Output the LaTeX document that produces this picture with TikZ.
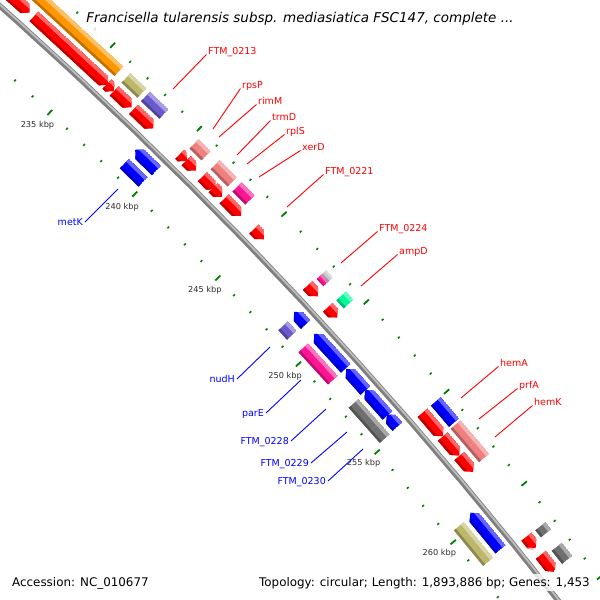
\documentclass[tikz,border=0pt]{standalone}
\usepackage{fontspec}
\setmainfont{DejaVu Sans}
\usetikzlibrary{calc}
\definecolor{cRed}{RGB}{255,0,0}
\definecolor{cBlue}{RGB}{0,0,255}
\definecolor{cOrange}{RGB}{255,150,0}
\definecolor{cOlive}{RGB}{189,183,107}
\definecolor{cPurple}{RGB}{106,90,205}
\definecolor{cCoral}{RGB}{240,128,128}
\definecolor{cMagenta}{RGB}{255,20,147}
\definecolor{cMint}{RGB}{0,250,154}
\definecolor{cGray}{RGB}{112,112,112}
\definecolor{cLGray}{RGB}{200,200,200}
\definecolor{cPink}{RGB}{255,182,193}
\definecolor{cTick}{RGB}{0,128,0}
\definecolor{cBack}{RGB}{128,128,128}
\definecolor{cBackL}{RGB}{190,190,190}
\definecolor{cTxt}{RGB}{45,45,45}

\newcommand\RO{4614}
% #1 x1, #2 y1, #3 x2, #4 y2 (screen points at the two ends), #5 radial offset, #6 half width, #7 type (0 box,1 fwd,2 rev), #8 colour
\newcommand\feat[8]{%
  \pgfmathsetmacro\tA{atan2((#2)-3448,(#1)+3071)}%
  \pgfmathsetmacro\tB{atan2((#4)-3448,(#3)+3071)}%
  \pgfmathsetmacro\rc{\RO+(#5)}%
  \pgfmathsetmacro\ri{\rc-(#6)}%
  \pgfmathsetmacro\ro{\rc+(#6)}%
  \pgfmathsetmacro\hd{min(6.5*57.29578/\rc,\tB-\tA)}%
  \pgfmathsetmacro\tAh{\tA+\hd}%
  \pgfmathsetmacro\tBh{\tB-\hd}%
  \pgfmathsetmacro\tAx{\tA-0.1}%
  \pgfmathsetmacro\tBx{\tB+0.1}%
  \pgfmathsetmacro\rhl{\ro-0.6*(#6)}%
  \pgfmathsetmacro\rsh{\ri+0.4*(#6)}%
  \ifcase#7\relax
    \def\fpath{(\tA:\ri) -- (\tB:\ri) -- (\tB:\ro) -- (\tA:\ro) -- cycle}%
  \or
    \def\fpath{(\tA:\ri) -- (\tBh:\ri) -- (\tB:\rc) -- (\tBh:\ro) -- (\tA:\ro) -- cycle}%
  \or
    \def\fpath{(\tB:\ri) -- (\tAh:\ri) -- (\tA:\rc) -- (\tAh:\ro) -- (\tB:\ro) -- cycle}%
  \fi
  \begin{scope}
    \clip \fpath;
    \fill[#8] \fpath;
    \fill[#8!60!white] (\tAx:\rhl) -- (\tBx:\rhl) -- (\tBx:\ro) -- (\tAx:\ro) -- cycle;
    \fill[#8!75!black] (\tAx:\ri) -- (\tBx:\ri) -- (\tBx:\rsh) -- (\tAx:\rsh) -- cycle;
  \end{scope}
}

\begin{document}
\begin{tikzpicture}[x=1pt,y=-1pt,
  lblR/.style={text=cRed, font=\fontsize{9.5}{11}\selectfont, inner sep=0pt, anchor=base west},
  lblB/.style={text=cBlue, font=\fontsize{9.5}{11}\selectfont, inner sep=0pt, anchor=base east},
  lineR/.style={draw=cRed, line width=0.9pt},
  lineB/.style={draw=cBlue, line width=0.9pt},
  tickL/.style={draw=cTick, line width=1.8pt},
  tickS/.style={draw=cTick, line width=1.6pt},
  kbp/.style={text=cTxt, font=\fontsize{8.2}{9}\selectfont, inner sep=0pt},
  legend/.style={font=\fontsize{11.9}{13}\selectfont, fill=white, fill opacity=0.8, text opacity=1, inner sep=3pt}]
\useasboundingbox (0,0) rectangle (600,600);
\fill[white] (0,0) rectangle (600,600);
\begin{scope}
\clip (0,0) rectangle (600,600);
\begin{scope}[shift={(-3071,3448)}]
  % tick rings
  \foreach \k in {229,...,267}{
    \pgfmathsetmacro\th{-46.905+0.29592*(\k-235)}
    \pgfmathtruncatemacro\m{mod(\k,5)}
    \ifnum\m=0
      \draw[tickL] (\th:4656.5) -- (\th:4663.5);
      \draw[tickL] (\th:4564.5) -- (\th:4571.5);
    \else
      \draw[tickS] (\th:4658.8) -- (\th:4661.2);
      \draw[tickS] (\th:4566.8) -- (\th:4569.2);
    \fi
  }
  \foreach \k in {235,240,...,260}{
    \pgfmathsetmacro\th{-46.905+0.29592*(\k-235)}
    \node[kbp] (tk\k) at (\th:4550) {\k\ kbp};
  }
  % backbone
  \draw[line width=5.5pt, cBack] plot[domain=-49.5:-37, samples=120] (\x:4613);
  \draw[line width=1.8pt, cBackL] plot[domain=-49.5:-37, samples=120] (\x:4614);
  % outer slot 1 (forward genes)
  \feat{0}{-25}{33}{9}{14}{6.5}{1}{cRed}
  \feat{36}{14}{110}{83}{14}{6.5}{1}{cRed}
  \feat{107}{84}{115}{91}{14}{6.5}{1}{cRed}
  \feat{115}{90}{132}{107}{14}{6.5}{1}{cRed}
  \feat{133}{110}{154}{128}{14}{6.5}{1}{cRed}
  \feat{179}{155}{187}{161}{14}{6.5}{1}{cRed}
  \feat{186}{161}{195}{172}{14}{6.5}{1}{cRed}
  \feat{202}{177}{215}{190}{14}{6.5}{1}{cRed}
  \feat{213}{188}{222}{197}{14}{6.5}{1}{cRed}
  \feat{223}{200}{240}{217}{14}{6.5}{1}{cRed}
  \feat{252}{231}{263}{240}{14}{6.5}{1}{cRed}
  \feat{306}{287}{317}{297}{14}{6.5}{1}{cRed}
  \feat{326}{309}{337}{318}{14}{6.5}{1}{cRed}
  \feat{421}{414}{442}{437}{14}{6.5}{1}{cRed}
  \feat{441}{438}{460}{455}{14}{6.5}{1}{cRed}
  \feat{458}{457}{473}{472}{14}{6.5}{1}{cRed}
  \feat{530}{543}{537}{548}{11}{4}{1}{cPink}
  \feat{526}{537}{537}{547}{14}{6.5}{1}{cRed}
  \feat{543}{553}{557}{570}{14}{6.5}{1}{cRed}
  % outer slot 2
  \feat{30}{-22}{121}{69}{31.5}{6.5}{0}{cOrange}
  \feat{127}{77}{143}{92}{31.5}{6.5}{0}{cOlive}
  \feat{147}{95}{165}{113}{31.5}{6.5}{0}{cPurple}
  \feat{194}{144}{200}{150}{31.5}{6.5}{0}{cCoral}
  \feat{200}{150}{207}{155}{31.5}{6.5}{0}{cCoral}
  \feat{215}{165}{232}{182}{31.5}{6.5}{0}{cCoral}
  \feat{237}{187}{250}{200}{31.5}{6.5}{0}{cMagenta}
  \feat{320.6}{275.4}{327.4}{282.6}{28.25}{3.25}{0}{cMagenta}
  \feat{320.6}{275.4}{327.4}{282.6}{34.75}{3.25}{0}{cLGray}
  \feat{340}{297}{348}{304.5}{31.5}{6.5}{0}{cMint}
  \feat{435.3}{402}{453.7}{423}{31.5}{6.5}{0}{cBlue}
  \feat{455}{425}{472}{444}{31.5}{6.5}{0}{cCoral}
  \feat{472}{444}{484}{458}{31.5}{6.5}{0}{cCoral}
  \feat{540.7}{526}{546.3}{533}{31.5}{6.5}{0}{cGray}
  \feat{557.8}{546}{568.2}{559}{31.5}{6.5}{0}{cGray}
  % inner slot 1 (reverse genes)
  \feat{136}{149}{157}{170}{-14}{6.5}{2}{cBlue}
  \feat{293}{313}{305}{325}{-14}{6.5}{2}{cBlue}
  \feat{313}{335}{345}{369}{-14}{6.5}{2}{cBlue}
  \feat{345}{370}{365}{391}{-14}{6.5}{2}{cBlue}
  \feat{364}{391}{388}{415}{-14}{6.5}{2}{cBlue}
  \feat{386}{415}{397}{427}{-14}{6.5}{2}{cBlue}
  \feat{470}{513}{497}{542}{-14}{6.5}{2}{cBlue}
  \feat{495}{535}{502}{548}{-14}{6.5}{2}{cBlue}
  % inner slot 2
  \feat{125}{163}{143}{182}{-31.5}{6.5}{0}{cBlue}
  \feat{282.6}{326.3}{291.4}{335.7}{-31.5}{6.5}{0}{cPurple}
  \feat{302.3}{348.7}{331.7}{381.3}{-31.5}{6.5}{0}{cMagenta}
  \feat{352.5}{404.4}{373.3}{428}{-31.5}{6.5}{0}{cGray}
  \feat{373.3}{428}{383.5}{439.6}{-31.5}{6.5}{0}{cGray}
  \feat{458.9}{526.2}{483.3}{556}{-31.5}{6.5}{0}{cOlive}
  \feat{483.3}{556}{488.1}{561.8}{-31.5}{6.5}{0}{cOlive}
\end{scope}
\end{scope}

% label end points
\coordinate (e1) at (173,89);
\coordinate (e2) at (213,129);
\coordinate (e3) at (219,137);
\coordinate (e4) at (237,155);
\coordinate (e5) at (247,164);
\coordinate (e6) at (259,177);
\coordinate (e7) at (287,207);
\coordinate (e8) at (341,263);
\coordinate (e9) at (361,286);
\coordinate (e10) at (461,398);
\coordinate (e11) at (479,419);
\coordinate (e12) at (495,437);
\coordinate (f1) at (118,189);
\coordinate (f2) at (270,347);
\coordinate (f3) at (301,380);
\coordinate (f4) at (326,409);
\coordinate (f5) at (347,432);
\coordinate (f6) at (363,449);

% red labels
\node[lblR] (l1) at (208,54.5) {FTM\_0213};
\node[lblR] (l2) at (242,88.5) {rpsP};
\node[lblR] (l3) at (258,104.5) {rimM};
\node[lblR] (l4) at (272,120.5) {trmD};
\node[lblR] (l5) at (286,134.5) {rplS};
\node[lblR] (l6) at (302,150.5) {xerD};
\node[lblR] (l7) at (325,174.5) {FTM\_0221};
\node[lblR] (l8) at (379,231.5) {FTM\_0224};
\node[lblR] (l9) at (399,254.5) {ampD};
\node[lblR] (l10) at (500,366.5) {hemA};
\node[lblR] (l11) at (519,388.5) {prfA};
\node[lblR] (l12) at (534,405.5) {hemK};
\foreach \i in {1,...,12}{\draw[lineR] ([xshift=-1.5pt]l\i.base west) -- (e\i);}

% blue labels
\node[lblB] (m1) at (83,225.5) {metK};
\node[lblB] (m2) at (235,382.5) {nudH};
\node[lblB] (m3) at (264,416.5) {parE};
\node[lblB] (m4) at (289,444.5) {FTM\_0228};
\node[lblB] (m5) at (309,466.5) {FTM\_0229};
\node[lblB] (m6) at (326,484.5) {FTM\_0230};
\foreach \i in {1,...,6}{\draw[lineB] ([xshift=2pt,yshift=3.5pt]m\i.base east) -- (f\i);}

% title and legend
\node[legend, font=\fontsize{13.5}{15}\selectfont\itshape, anchor=base, inner xsep=4pt, inner ysep=5pt] (title) at (300,22.5)
  {Francisella tularensis subsp. mediasiatica FSC147, complete ...};
\node[legend, anchor=base west] (acc) at (9,586) {Accession: NC\_010677};
\node[legend, anchor=base east] (topo) at (593,586) {Topology: circular; Length: 1,893,886 bp; Genes: 1,453};
\end{tikzpicture}
\end{document}
